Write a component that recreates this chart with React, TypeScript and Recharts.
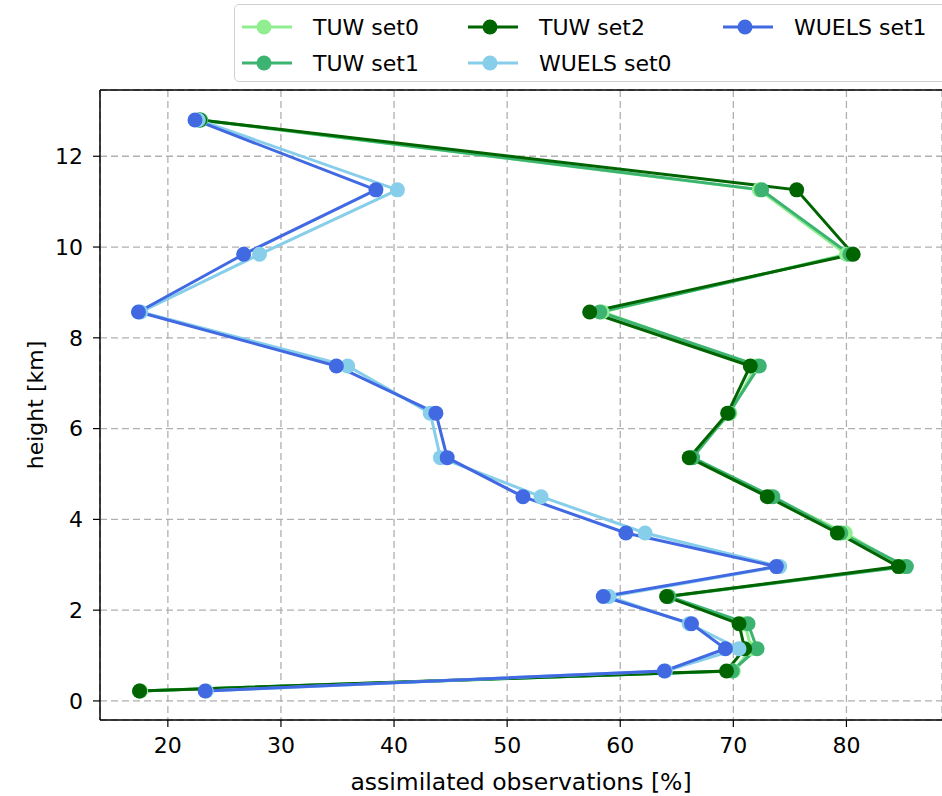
import React from 'react';
import { LineChart, Line, XAxis, YAxis, CartesianGrid, ReferenceLine } from 'recharts';

// heights of the observation layers [km]
const heights = [0.22, 0.66, 1.15, 1.7, 2.3, 2.96, 3.7, 4.5, 5.36, 6.34, 7.38, 8.57, 9.84, 11.26, 12.8];

// assimilated observations [%] per layer
const tuwSet0 = [17.6, 70.0, 71.6, 71.0, 64.2, 85.0, 79.9, 73.3, 66.2, 69.7, 72.0, 58.4, 80.0, 72.3, 22.9];
const tuwSet1 = [17.5, 69.9, 72.1, 71.3, 64.3, 85.3, 79.5, 73.5, 66.4, 69.6, 72.3, 58.2, 80.3, 72.5, 22.9];
const tuwSet2 = [17.5, 69.4, 71.0, 70.5, 64.1, 84.6, 79.2, 73.0, 66.1, 69.5, 71.5, 57.3, 80.6, 75.6, 22.8];
const wuelsSet0 = [23.4, 64.0, 70.5, 66.1, 59.0, 74.1, 62.2, 53.0, 44.1, 43.2, 35.9, 17.6, 28.1, 40.3, 22.7];
const wuelsSet1 = [23.3, 63.9, 69.3, 66.3, 58.5, 73.8, 60.5, 51.4, 44.7, 43.7, 34.9, 17.4, 26.7, 38.4, 22.4];

const xTicks = [20, 30, 40, 50, 60, 70, 80];
const yTicks = [0, 2, 4, 6, 8, 10, 12];

const X_DOMAIN: [number, number] = [14, 88.45];
const Y_DOMAIN: [number, number] = [-0.42, 13.46];

const FONT = '"DejaVu Sans", Verdana, sans-serif';

const series = [
  { key: 'tuw0', name: 'TUW set0', color: '#90EE90' },
  { key: 'tuw1', name: 'TUW set1', color: '#3CB371' },
  { key: 'tuw2', name: 'TUW set2', color: '#006400' },
  { key: 'wuels0', name: 'WUELS set0', color: '#87CEEB' },
  { key: 'wuels1', name: 'WUELS set1', color: '#4169E1' },
];

const data = heights.map((h, i) => ({
  height: h,
  tuw0: tuwSet0[i],
  tuw1: tuwSet1[i],
  tuw2: tuwSet2[i],
  wuels0: wuelsSet0[i],
  wuels1: wuelsSet1[i],
}));

// legend is laid out in columns like the matplotlib one (ncol=3)
const legendColumns = [
  { left: 242, items: [series[0], series[1]] },
  { left: 468, items: [series[2], series[3]] },
  { left: 723, items: [series[4]] },
];

const LegendHandle = ({ color }: { color: string }) => (
  <svg width={50} height={16} style={{ display: 'block' }}>
    <line x1={0} y1={8} x2={50} y2={8} stroke={color} strokeWidth={3} />
    <circle cx={22} cy={8} r={7.5} fill={color} />
  </svg>
);

const App: React.FC = () => {
  return (
    <div style={{ position: 'absolute', left: 0, top: 0, width: 942, height: 796, overflow: 'hidden', background: '#fff', fontFamily: FONT }}>
      <LineChart
        width={942}
        height={796}
        data={data}
        layout="vertical"
        margin={{ top: 90, right: 0, bottom: 0, left: 0 }}
      >
        <CartesianGrid stroke="#b0b0b0" strokeDasharray="7 4" strokeWidth={1.3} />
        <XAxis
          type="number"
          domain={X_DOMAIN}
          ticks={xTicks}
          allowDataOverflow
          height={76}
          tickSize={7}
          tickMargin={10}
          axisLine={{ stroke: '#000', strokeWidth: 1.5 }}
          tickLine={{ stroke: '#000', strokeWidth: 1.2 }}
          tick={{ fill: '#000', fontSize: 22, fontFamily: FONT }}
          label={{
            content: ({ viewBox }: any) => (
              <text x={viewBox.x + viewBox.width / 2} y={790} textAnchor="middle" fontSize={23.5} fontFamily={FONT} fill="#000">
                assimilated observations [%]
              </text>
            ),
          }}
        />
        <YAxis
          type="number"
          dataKey="height"
          domain={Y_DOMAIN}
          ticks={yTicks}
          reversed
          allowDataOverflow
          width={100}
          tickSize={7}
          tickMargin={10}
          axisLine={{ stroke: '#000', strokeWidth: 1.5 }}
          tickLine={{ stroke: '#000', strokeWidth: 1.2 }}
          tick={{ fill: '#000', fontSize: 22, fontFamily: FONT }}
          label={{
            content: ({ viewBox }: any) => {
              const cy = viewBox.y + viewBox.height / 2;
              return (
                <text x={43} y={cy} transform={`rotate(-90 43 ${cy})`} textAnchor="middle" fontSize={22} fontFamily={FONT} fill="#000">
                  height [km]
                </text>
              );
            },
          }}
        />
        <ReferenceLine y={Y_DOMAIN[1]} stroke="#000" strokeWidth={1.5} />
        {series.map((s) => (
          <Line
            key={s.key}
            dataKey={s.key}
            name={s.name}
            stroke={s.color}
            strokeWidth={3}
            dot={{ r: 7.5, fill: s.color, stroke: 'none' }}
            activeDot={false}
            isAnimationActive={false}
          />
        ))}
      </LineChart>

      <div
        style={{
          position: 'absolute',
          left: 234,
          top: 4,
          width: 720,
          height: 76,
          border: '1.5px solid #d0d0d0',
          borderRadius: 5,
          background: 'rgba(255,255,255,0.8)',
        }}
      />
      {legendColumns.map((col) =>
        col.items.map((s, row) => (
          <div
            key={s.key}
            style={{
              position: 'absolute',
              left: col.left,
              top: 27 + row * 36 - 13,
              height: 26,
              display: 'flex',
              alignItems: 'center',
              fontSize: 22,
              color: '#000',
              whiteSpace: 'nowrap',
            }}
          >
            <LegendHandle color={s.color} />
            <span style={{ marginLeft: 21 }}>{s.name}</span>
          </div>
        ))
      )}
    </div>
  );
};

export default App;
